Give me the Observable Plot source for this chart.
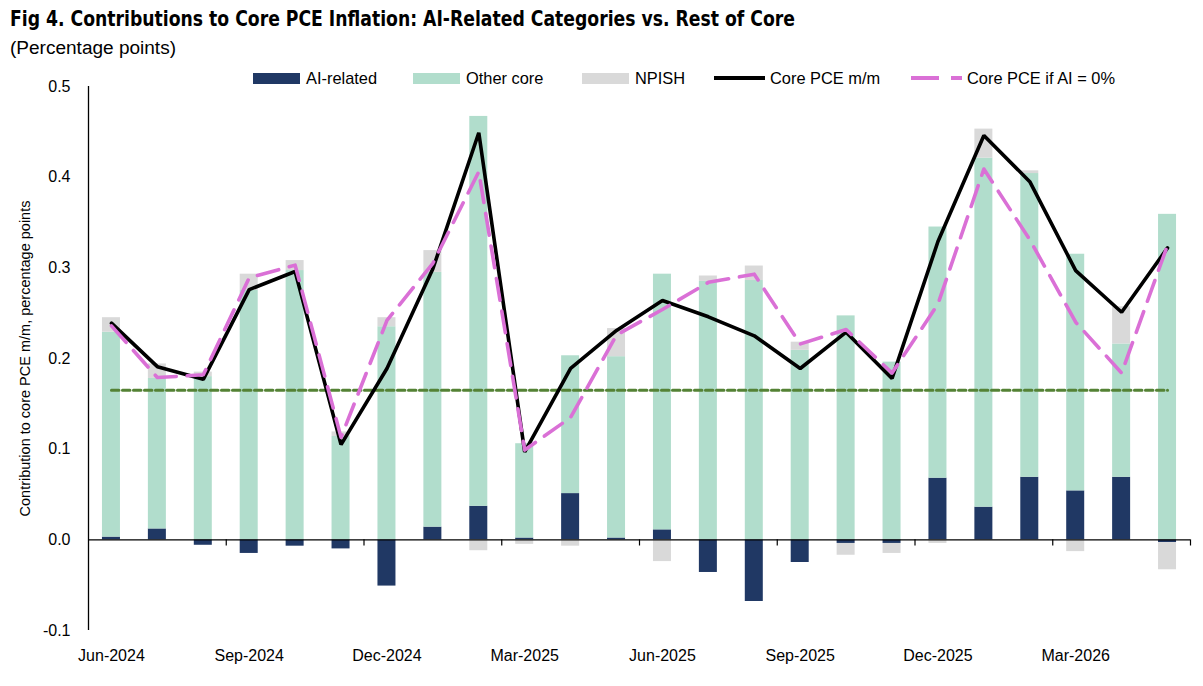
<!DOCTYPE html>
<html><head><meta charset="utf-8">
<script src="https://cdn.jsdelivr.net/npm/d3@7"></script>
<script src="https://cdn.jsdelivr.net/npm/@observablehq/plot@0.6"></script>
<style>
body{margin:0;background:#fff;font-family:"Liberation Sans",Arial,sans-serif;color:#000}
#wrap{position:relative;width:1203px;height:686px;overflow:hidden}
#title{position:absolute;left:10px;top:5px;font-weight:bold;font-size:22px;font-family:"DejaVu Sans Condensed","Liberation Sans",sans-serif;white-space:nowrap;line-height:28px;transform-origin:0 50%}
#subtitle{position:absolute;left:10px;top:36px;font-size:18px;line-height:24px;white-space:nowrap;transform-origin:0 50%}
.leg{position:absolute;top:69px;height:18px;display:flex;align-items:center;font-size:16.4px;white-space:nowrap}
.sw{display:inline-block;width:47px;height:11px;margin-right:6px}
#chart{position:absolute;left:0;top:70px}
</style></head>
<body><div id="wrap">
<div id="title">Fig 4. Contributions to Core PCE Inflation: AI-Related Categories vs. Rest of Core</div>
<div id="subtitle">(Percentage points)</div>
<div id="chart"></div>
</div>
<script>
const months = ["Jun-2024","Jul-2024","Aug-2024","Sep-2024","Oct-2024","Nov-2024","Dec-2024","Jan-2025","Feb-2025","Mar-2025","Apr-2025","May-2025","Jun-2025","Jul-2025","Aug-2025","Sep-2025","Oct-2025","Nov-2025","Dec-2025","Jan-2026","Feb-2026","Mar-2026","Apr-2026","May-2026"];
const tickMonths = ["Jun-2024","Sep-2024","Dec-2024","Mar-2025","Jun-2025","Sep-2025","Dec-2025","Mar-2026"];
const yTicks = [-0.1, 0, 0.1, 0.2, 0.3, 0.4, 0.5];

const aiRelated = [0.003, 0.012, -0.006, -0.015, -0.007, -0.010, -0.051, 0.014, 0.037, 0.002, 0.051, 0.002, 0.011, -0.036, -0.068, -0.025, -0.004, -0.004, 0.068, 0.036, 0.069, 0.054, 0.069, -0.003];
const otherCore = [0.226, 0.166, 0.180, 0.275, 0.297, 0.114, 0.235, 0.281, 0.430, 0.104, 0.152, 0.200, 0.282, 0.285, 0.286, 0.209, 0.247, 0.196, 0.277, 0.385, 0.335, 0.261, 0.147, 0.359];
const npish = [0.016, 0.016, 0.005, 0.018, 0.011, 0.005, 0.010, 0.024, -0.012, -0.005, -0.007, 0.031, -0.024, 0.006, 0.016, 0.009, -0.013, -0.011, -0.004, 0.032, 0.003, -0.013, 0.041, -0.030];
const corePce = [0.239, 0.191, 0.177, 0.276, 0.296, 0.105, 0.189, 0.299, 0.449, 0.097, 0.189, 0.231, 0.264, 0.246, 0.225, 0.189, 0.229, 0.178, 0.329, 0.446, 0.395, 0.297, 0.251, 0.322];
const coreIfAiZero = [0.236, 0.179, 0.182, 0.289, 0.303, 0.113, 0.242, 0.305, 0.406, 0.099, 0.135, 0.226, 0.254, 0.284, 0.293, 0.216, 0.232, 0.184, 0.260, 0.409, 0.331, 0.240, 0.184, 0.325];
const benchmark = 0.165;

const seriesNames = ["AI-related", "Other core", "NPISH"];
const seriesColors = ["#203864", "#b1ddcc", "#d9d9d9"];
const lineNames = ["Core PCE m/m", "Core PCE if AI = 0%"];
const lineColors = ["#000000", "#da70d6"];
const benchColor = "#548235";
const yLabel = "Contribution to core PCE m/m, percentage points";

// fit title / subtitle widths to the reference
function fitWidth(id, target) {
  const el = document.getElementById(id);
  const w = el.getBoundingClientRect().width;
  el.style.transform = `scaleX(${target / w})`;
}
fitWidth("title", 785);
fitWidth("subtitle", 166);

const rows = months.flatMap((m, i) => [
  {month: m, series: seriesNames[0], value: aiRelated[i]},
  {month: m, series: seriesNames[1], value: otherCore[i]},
  {month: m, series: seriesNames[2], value: npish[i]}
]);
const coreRows = months.map((m, i) => ({month: m, value: corePce[i]}));
const exRows = months.map((m, i) => ({month: m, value: coreIfAiZero[i]}));
const benchRows = [{month: months[0], value: benchmark}, {month: months[months.length - 1], value: benchmark}];

const W = 1203, H = 616, mL = 88, mR = 13;
const step = (W - mL - mR) / months.length;
const barInset = (step - 18) / 2;

const chart = Plot.plot({
  width: W, height: H,
  marginTop: 16, marginBottom: 56, marginLeft: mL, marginRight: mR,
  style: {fontFamily: "'Liberation Sans', Arial, sans-serif", fontSize: "16px", color: "#000", background: "transparent"},
  x: {type: "band", domain: months, padding: 0, round: false, label: null},
  y: {domain: [-0.1, 0.5], label: null},
  color: {domain: seriesNames, range: seriesColors},
  marks: [
    Plot.barY(rows, {x: "month", y: "value", fill: "series", insetLeft: barInset, insetRight: barInset}),
    Plot.ruleY([0], {stroke: "#000", strokeWidth: 1.3}),
    Plot.ruleX([months[0]], {x: d => d, dx: -step / 2, stroke: "#000", strokeWidth: 1.3}),
    Plot.ruleX(tickMonths.slice(1), {x: d => d, y1: 0, y2: -0.0068, dx: -step / 2, stroke: "#000", strokeWidth: 1.2}),
    Plot.ruleX([months[months.length - 1]], {x: d => d, y1: 0, y2: -0.0068, dx: step / 2, stroke: "#000", strokeWidth: 1.2}),
    Plot.line(benchRows, {x: "month", y: "value", stroke: benchColor, strokeWidth: 3, strokeDasharray: "7.5,3.5"}),
    Plot.line(coreRows, {x: "month", y: "value", stroke: lineColors[0], strokeWidth: 3.6, strokeLinejoin: "miter"}),
    Plot.line(exRows, {x: "month", y: "value", stroke: lineColors[1], strokeWidth: 3.6, strokeDasharray: "22,11"}),
    Plot.axisX({ticks: tickMonths, tickSize: 0, tickPadding: 19, fontSize: 16}),
    Plot.axisY({ticks: yTicks, tickFormat: d => d.toFixed(1), tickSize: 0, tickPadding: 18, fontSize: 16, label: null}),
    Plot.text([yLabel], {frameAnchor: "left", rotate: -90, dx: -63, textAnchor: "middle", fontSize: 14.5, fill: "#000"})
  ]
});
document.getElementById("chart").appendChild(chart);

// legend
const wrap = document.getElementById("wrap");
const legendX = [253, 413, 582, 714, 911];
const items = [
  ...seriesNames.map((n, i) => ({name: n, kind: "bar", color: seriesColors[i]})),
  {name: lineNames[0], kind: "solid", color: lineColors[0]},
  {name: lineNames[1], kind: "dash", color: lineColors[1]}
];
items.forEach((it, i) => {
  const d = document.createElement("div");
  d.className = "leg";
  d.style.left = legendX[i] + "px";
  if (it.kind === "bar") {
    const s = document.createElement("span");
    s.className = "sw"; s.style.background = it.color;
    d.appendChild(s);
  } else {
    const ns = "http://www.w3.org/2000/svg";
    const s = document.createElementNS(ns, "svg");
    s.setAttribute("width", 54); s.setAttribute("height", 12);
    s.style.marginRight = "2px";
    const l = document.createElementNS(ns, "line");
    l.setAttribute("x1", 0); l.setAttribute("x2", 51); l.setAttribute("y1", 6); l.setAttribute("y2", 6);
    l.setAttribute("stroke", it.color); l.setAttribute("stroke-width", 4);
    if (it.kind === "dash") l.setAttribute("stroke-dasharray", "28,12");
    s.appendChild(l);
    d.appendChild(s);
  }
  const t = document.createElement("span");
  t.textContent = it.name;
  d.appendChild(t);
  wrap.appendChild(d);
});
</script>
</body></html>
